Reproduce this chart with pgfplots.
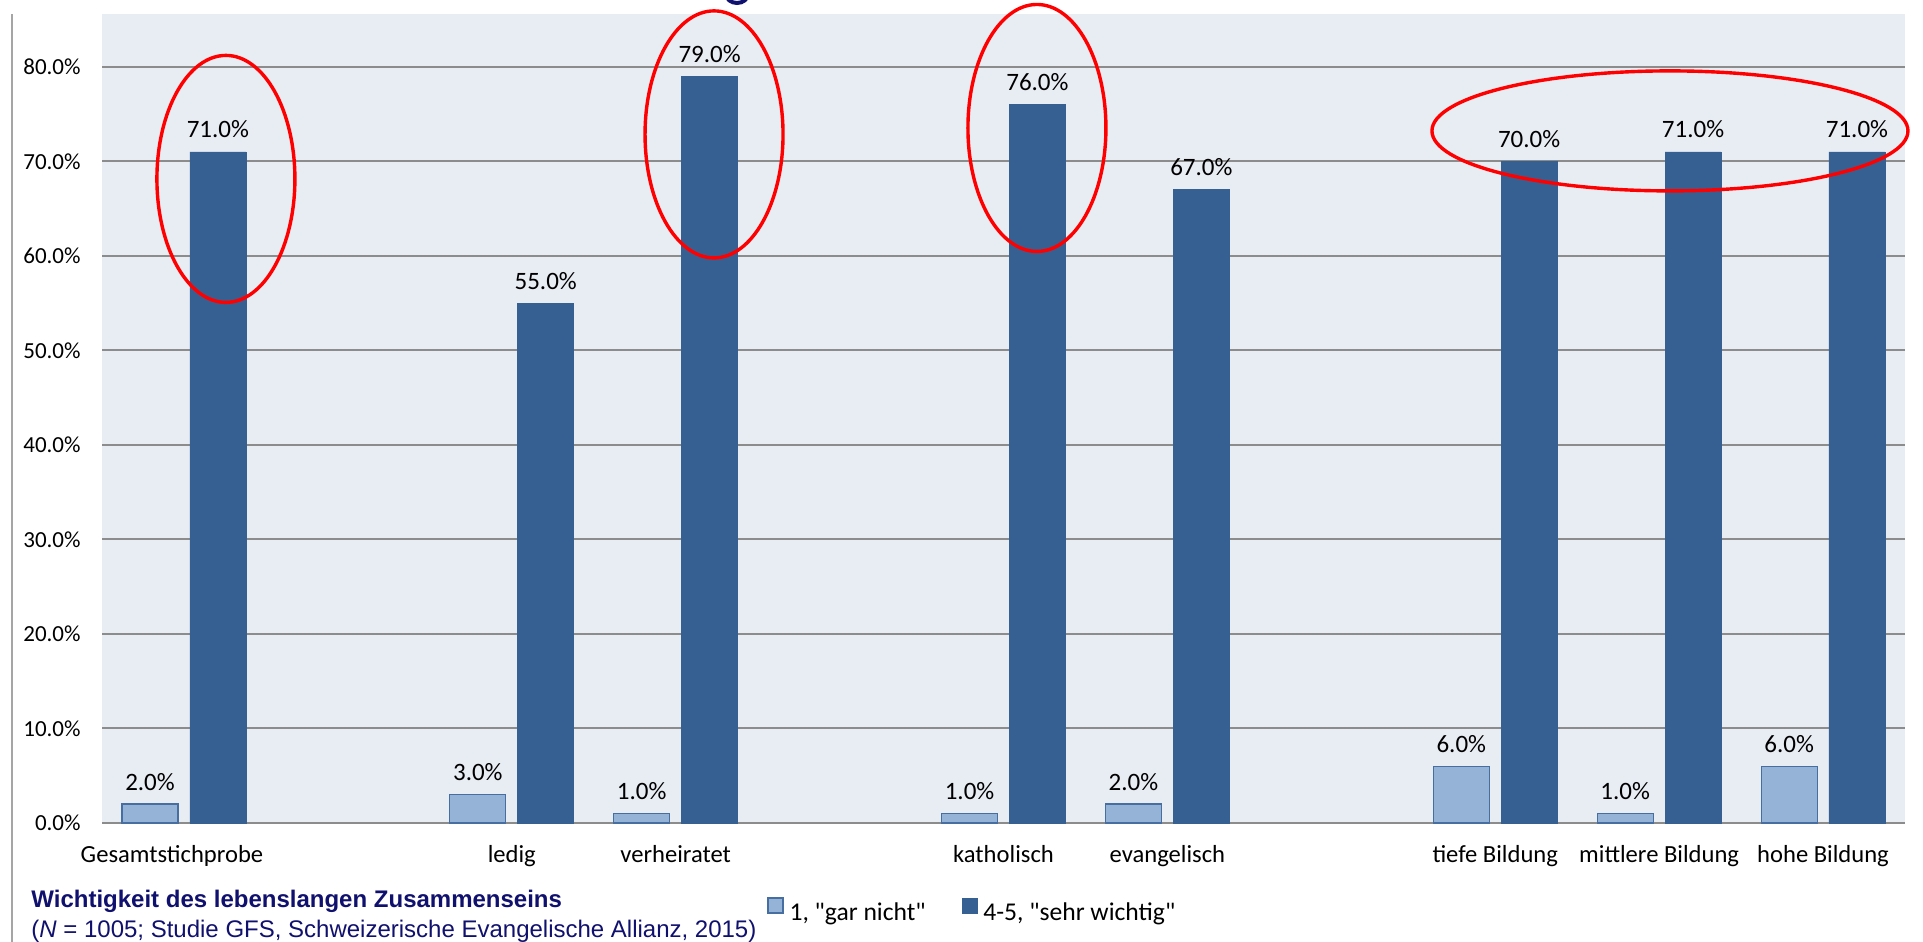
\documentclass[border=0pt]{standalone}
\usepackage{pgfplots}
\pgfplotsset{compat=1.18}
\usepackage{fontspec}
\setmainfont{Carlito}
\newfontfamily\arialfont{Liberation Sans}

\definecolor{plotbg}{RGB}{232,236,243}
\definecolor{gridgray}{RGB}{140,140,140}
\definecolor{lightbar}{RGB}{149,179,215}
\definecolor{lightedge}{RGB}{70,110,160}
\definecolor{darkbar}{RGB}{55,96,146}
\definecolor{navy}{RGB}{16,16,110}
\definecolor{framegray}{RGB}{165,165,165}

% share of answers per group
\pgfplotstableread{
x  garnicht  sehrwichtig
0  2         71
2  3         55
3  1         79
5  1         76
6  2         67
8  6         70
9  1         71
10 6         71
}\wichtigkeit

\begin{document}
\begin{tikzpicture}[x=1pt,y=1pt]
\useasboundingbox (0,0) rectangle (961.5,471);
% thin frame line on the left
\draw[framegray, line width=1pt] (6,0) -- (6,464);
% descender of the slide heading above
\draw[navy, line width=2pt] (368.5,474) ellipse [x radius=5.5, y radius=4.5];
\begin{axis}[
  at={(51pt,59.5pt)}, anchor=south west,
  scale only axis, width=901.5pt, height=404.5pt,
  xmin=-0.5, xmax=10.5, ymin=0, ymax=85.6,
  ybar, bar width=0.342,
  axis background/.style={fill=plotbg},
  axis line style={draw=none},
  major tick length=0pt,
  ymajorgrids, grid style={gridgray, line width=1pt},
  ytick={0,10,...,80},
  /pgf/number format/assume math mode=true,
  yticklabel={\pgfmathprintnumber[fixed,fixed zerofill,precision=1]{\tick}\%},
  yticklabel style={font=\fontsize{11.5}{13}\selectfont, anchor=east, inner sep=0pt, xshift=-10.5pt},
  xtick={0,2,3,5,6,8,9,10},
  xticklabels={\hspace*{-12pt}Gesamtstichprobe, ledig, verheiratet, katholisch, evangelisch, tiefe Bildung, mittlere Bildung, hohe Bildung},
  xticklabel style={font=\fontsize{12.3}{14}\selectfont, anchor=base, inner sep=0pt, yshift=-20pt},
  nodes near coords={\pgfmathprintnumber[fixed,fixed zerofill,precision=1]{\pgfplotspointmeta}\%},
  every node near coord/.append style={font=\fontsize{12.5}{14}\selectfont, anchor=base, inner sep=0pt, yshift=7pt, text=black},
  clip=false,
  legend columns=2,
  legend style={at={(0.3688,-0.108)}, anchor=west, draw=none, fill=none, inner sep=0pt,
    font=\fontsize{12.8}{14}\selectfont,
    /tikz/every odd column/.append style={column sep=3pt},
    /tikz/every even column/.append style={column sep=18pt},
    nodes={inner sep=0pt}},
  legend image code/.code={\draw[#1] (0pt,0pt) rectangle (7.5pt,7.5pt);},
]
\addplot[fill=lightbar, draw=lightedge, line width=0.6pt, bar shift=-0.207]
  table[x=x, y=garnicht] {\wichtigkeit};
\addlegendentry{1, \textquotedbl gar nicht\textquotedbl}
\addplot[fill=darkbar, draw=darkbar, line width=0.3pt, bar shift=0.207]
  table[x=x, y=sehrwichtig] {\wichtigkeit};
\addlegendentry{4-5, \textquotedbl sehr wichtig\textquotedbl}

% highlighted results
\begin{scope}[red, line width=1.7pt]
  \draw (axis cs:0.256,68.15) ellipse [x radius=34.5pt, y radius=61.75pt];
  \draw (axis cs:3.234,72.86) ellipse [x radius=34.5pt, y radius=61.75pt];
  \draw (axis cs:5.204,73.54) ellipse [x radius=34.5pt, y radius=61.75pt];
  \draw (axis cs:9.066,73.23) ellipse [x radius=119pt, y radius=30pt];
\end{scope}
\end{axis}
% caption below the chart
\node[anchor=base west, inner sep=0pt, text=navy, font=\arialfont\bfseries\fontsize{12}{13}\selectfont]
  at (15.5,17) {Wichtigkeit des lebenslangen Zusammenseins};
\node[anchor=base west, inner sep=0pt, text=navy, font=\arialfont\fontsize{12}{13}\selectfont]
  at (15.5,2) {(\textit{N} = 1005; Studie GFS, Schweizerische Evangelische Allianz, 2015)};
\end{tikzpicture}
\end{document}
